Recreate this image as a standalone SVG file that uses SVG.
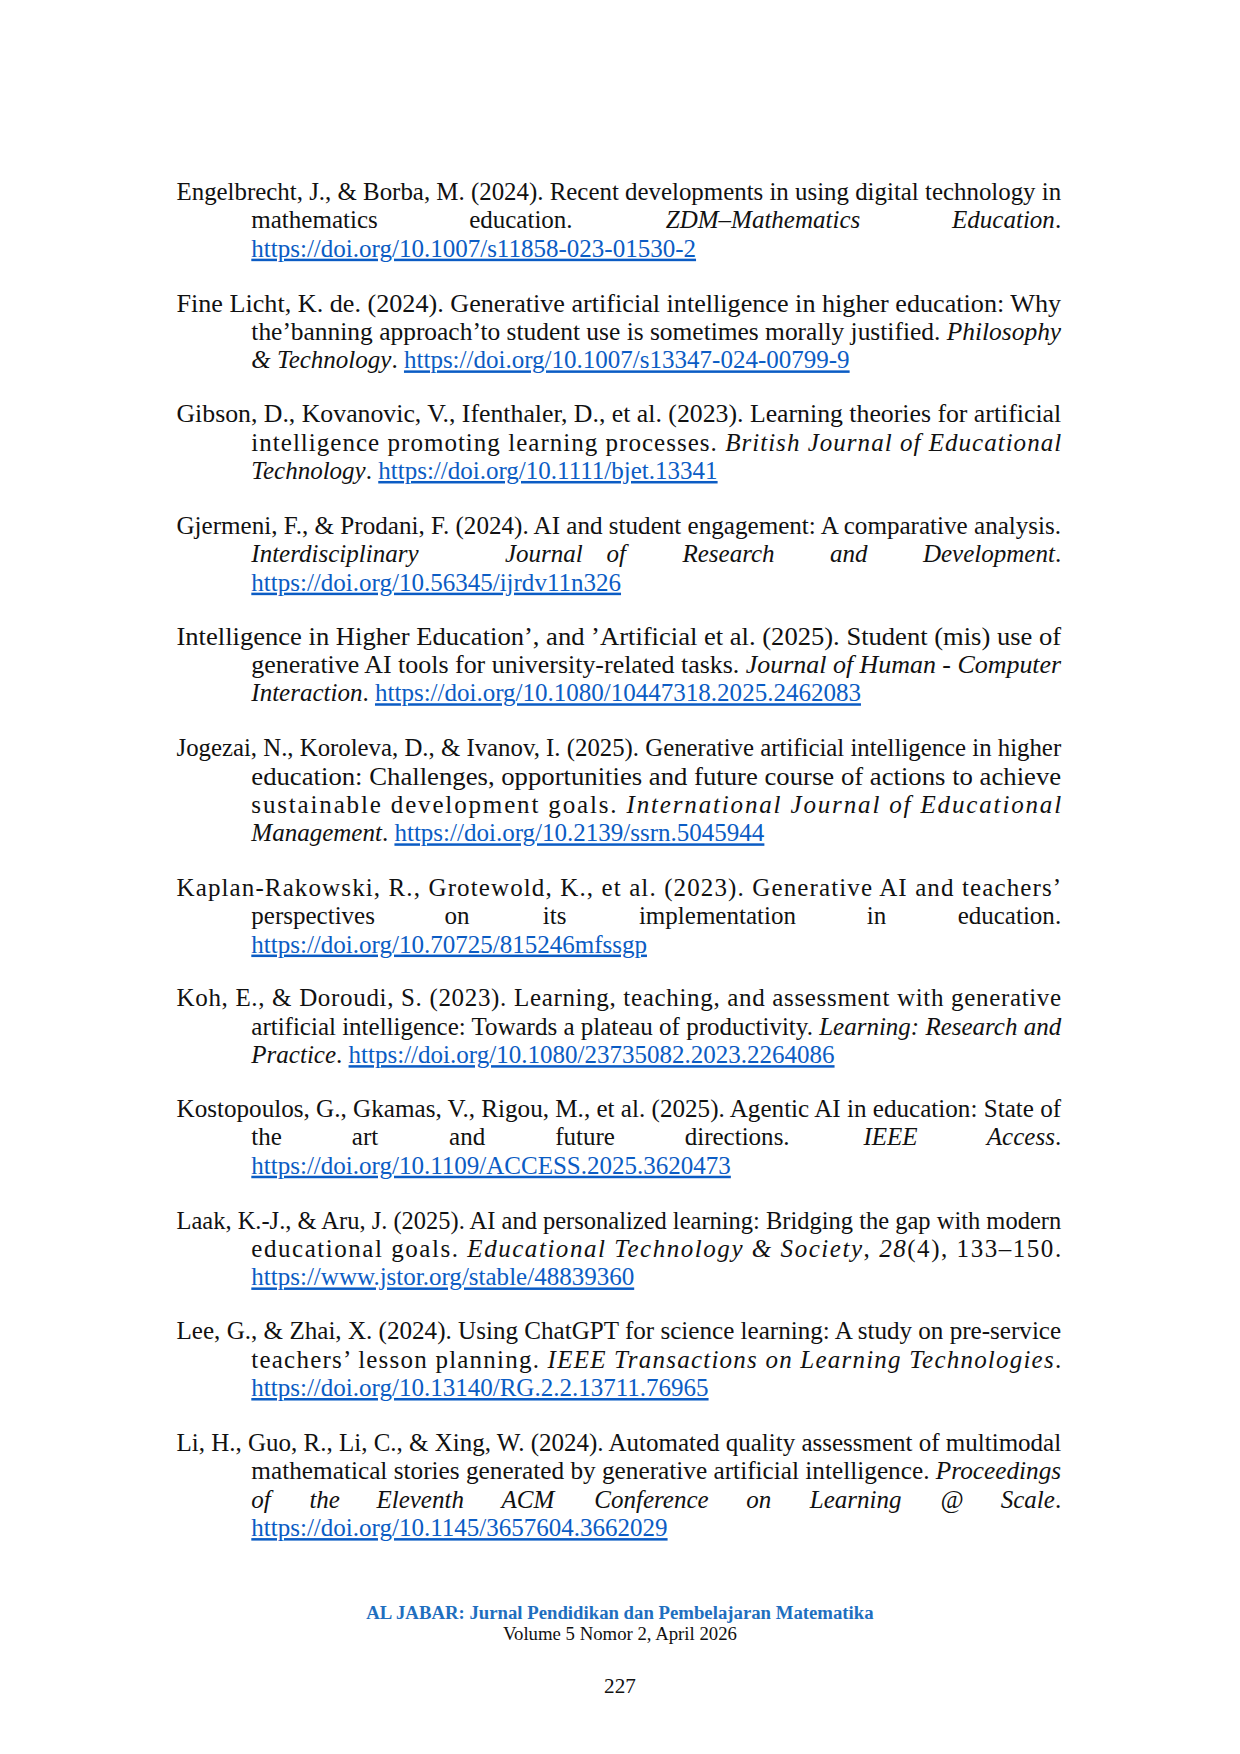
<svg xmlns="http://www.w3.org/2000/svg" width="1240" height="1754" viewBox="0 0 1240 1754">
<style>
text{font-family:"Liberation Serif","Times New Roman",serif;font-size:22.4px;fill:#111}
.i{font-style:italic}
.l{fill:#0b5cc4;text-decoration:underline}
.e{text-anchor:end}
.f1{font-size:16.8px;font-weight:bold;fill:#1f6fbf;text-anchor:middle}
.f2{font-size:16.8px;text-anchor:middle}
.f3{font-size:19px;text-anchor:middle}
</style>
<rect width="1240" height="1754" fill="#fff"/>
<g transform="scale(1.117)">
<g id="ref1">
<text x="158" y="179" textLength="792" lengthAdjust="spacingAndGlyphs">Engelbrecht, J., &amp; Borba, M. (2024). Recent developments in using digital technology in</text>
<text x="225" y="204.4">mathematics</text><text x="420" y="204.4">education.</text><text x="596" y="204.4" class="i">ZDM–Mathematics</text><text x="950" y="204.4" class="e"><tspan class="i">Education</tspan>.</text>
<text x="225" y="229.8" class="l">https://doi.org/10.1007/s11858-023-01530-2</text>
</g>
<g id="ref2">
<text x="158" y="279" textLength="792" lengthAdjust="spacingAndGlyphs">Fine Licht, K. de. (2024). Generative artificial intelligence in higher education: Why</text>
<text x="225" y="304.4" textLength="725" lengthAdjust="spacingAndGlyphs">the’banning approach’to student use is sometimes morally justified. <tspan class="i">Philosophy</tspan></text>
<text x="225" y="329.8"><tspan class="i">&amp; Technology</tspan>. <tspan class="l">https://doi.org/10.1007/s13347-024-00799-9</tspan></text>
</g>
<g id="ref3">
<text x="158" y="378" textLength="792" lengthAdjust="spacingAndGlyphs">Gibson, D., Kovanovic, V., Ifenthaler, D., et al. (2023). Learning theories for artificial</text>
<text x="225" y="403.4" textLength="725" lengthAdjust="spacing">intelligence promoting learning processes. <tspan class="i">British Journal of Educational</tspan></text>
<text x="225" y="428.8"><tspan class="i">Technology</tspan>. <tspan class="l">https://doi.org/10.1111/bjet.13341</tspan></text>
</g>
<g id="ref4">
<text x="158" y="478" textLength="792" lengthAdjust="spacingAndGlyphs">Gjermeni, F., &amp; Prodani, F. (2024). AI and student engagement: A comparative analysis.</text>
<text x="225" y="503.4" class="i">Interdisciplinary</text><text x="452" y="503.4" class="i">Journal</text><text x="543" y="503.4" class="i">of</text><text x="611" y="503.4" class="i">Research</text><text x="743" y="503.4" class="i">and</text><text x="950" y="503.4" class="e"><tspan class="i">Development</tspan>.</text>
<text x="225" y="528.8" class="l">https://doi.org/10.56345/ijrdv11n326</text>
</g>
<g id="ref5">
<text x="158" y="577" textLength="792" lengthAdjust="spacingAndGlyphs">Intelligence in Higher Education’, and ’Artificial et al. (2025). Student (mis) use of</text>
<text x="225" y="602.4" textLength="725" lengthAdjust="spacingAndGlyphs">generative AI tools for university-related tasks. <tspan class="i">Journal of Human - Computer</tspan></text>
<text x="225" y="627.8"><tspan class="i">Interaction</tspan>. <tspan class="l">https://doi.org/10.1080/10447318.2025.2462083</tspan></text>
</g>
<g id="ref6">
<text x="158" y="677" textLength="792" lengthAdjust="spacingAndGlyphs">Jogezai, N., Koroleva, D., &amp; Ivanov, I. (2025). Generative artificial intelligence in higher</text>
<text x="225" y="702.4" textLength="725" lengthAdjust="spacingAndGlyphs">education: Challenges, opportunities and future course of actions to achieve</text>
<text x="225" y="727.8" textLength="725" lengthAdjust="spacing">sustainable development goals. <tspan class="i">International Journal of Educational</tspan></text>
<text x="225" y="753.2"><tspan class="i">Management</tspan>. <tspan class="l">https://doi.org/10.2139/ssrn.5045944</tspan></text>
</g>
<g id="ref7">
<text x="158" y="802" textLength="792" lengthAdjust="spacing">Kaplan-Rakowski, R., Grotewold, K., et al. (2023). Generative AI and teachers’</text>
<text x="225" y="827.4">perspectives</text><text x="398" y="827.4">on</text><text x="486" y="827.4">its</text><text x="572" y="827.4">implementation</text><text x="776" y="827.4">in</text><text x="950" y="827.4" class="e">education.</text>
<text x="225" y="852.8" class="l">https://doi.org/10.70725/815246mfssgp</text>
</g>
<g id="ref8">
<text x="158" y="901" textLength="792" lengthAdjust="spacing">Koh, E., &amp; Doroudi, S. (2023). Learning, teaching, and assessment with generative</text>
<text x="225" y="926.4" textLength="725" lengthAdjust="spacingAndGlyphs">artificial intelligence: Towards a plateau of productivity. <tspan class="i">Learning: Research and</tspan></text>
<text x="225" y="951.8"><tspan class="i">Practice</tspan>. <tspan class="l">https://doi.org/10.1080/23735082.2023.2264086</tspan></text>
</g>
<g id="ref9">
<text x="158" y="1000" textLength="792" lengthAdjust="spacingAndGlyphs">Kostopoulos, G., Gkamas, V., Rigou, M., et al. (2025). Agentic AI in education: State of</text>
<text x="225" y="1025.4">the</text><text x="315" y="1025.4">art</text><text x="402" y="1025.4">and</text><text x="497" y="1025.4">future</text><text x="613" y="1025.4">directions.</text><text x="773" y="1025.4" class="i">IEEE</text><text x="950" y="1025.4" class="e"><tspan class="i">Access</tspan>.</text>
<text x="225" y="1050.8" class="l">https://doi.org/10.1109/ACCESS.2025.3620473</text>
</g>
<g id="ref10">
<text x="158" y="1100" textLength="792" lengthAdjust="spacingAndGlyphs">Laak, K.-J., &amp; Aru, J. (2025). AI and personalized learning: Bridging the gap with modern</text>
<text x="225" y="1125.4" textLength="725" lengthAdjust="spacing">educational goals. <tspan class="i">Educational Technology &amp; Society</tspan>, <tspan class="i">28</tspan>(4), 133–150.</text>
<text x="225" y="1150.8" class="l">https://www.jstor.org/stable/48839360</text>
</g>
<g id="ref11">
<text x="158" y="1199" textLength="792" lengthAdjust="spacingAndGlyphs">Lee, G., &amp; Zhai, X. (2024). Using ChatGPT for science learning: A study on pre-service</text>
<text x="225" y="1224.4" textLength="725" lengthAdjust="spacing">teachers’ lesson planning. <tspan class="i">IEEE Transactions on Learning Technologies</tspan>.</text>
<text x="225" y="1249.8" class="l">https://doi.org/10.13140/RG.2.2.13711.76965</text>
</g>
<g id="ref12">
<text x="158" y="1299" textLength="792" lengthAdjust="spacingAndGlyphs">Li, H., Guo, R., Li, C., &amp; Xing, W. (2024). Automated quality assessment of multimodal</text>
<text x="225" y="1324.4" textLength="725" lengthAdjust="spacingAndGlyphs">mathematical stories generated by generative artificial intelligence. <tspan class="i">Proceedings</tspan></text>
<text x="225" y="1349.8" class="i">of</text><text x="277" y="1349.8" class="i">the</text><text x="337" y="1349.8" class="i">Eleventh</text><text x="449" y="1349.8" class="i">ACM</text><text x="532" y="1349.8" class="i">Conference</text><text x="668" y="1349.8" class="i">on</text><text x="725" y="1349.8" class="i">Learning</text><text x="842" y="1349.8" class="i">@</text><text x="950" y="1349.8" class="e"><tspan class="i">Scale</tspan>.</text>
<text x="225" y="1375.2" class="l">https://doi.org/10.1145/3657604.3662029</text>
</g>
<g id="footer">
<text x="555" y="1449" class="f1">AL JABAR: Jurnal Pendidikan dan Pembelajaran Matematika</text>
<text x="555" y="1468" class="f2">Volume 5 Nomor 2, April 2026</text>
<text x="555" y="1516" class="f3">227</text>
</g>
</g>
</svg>
